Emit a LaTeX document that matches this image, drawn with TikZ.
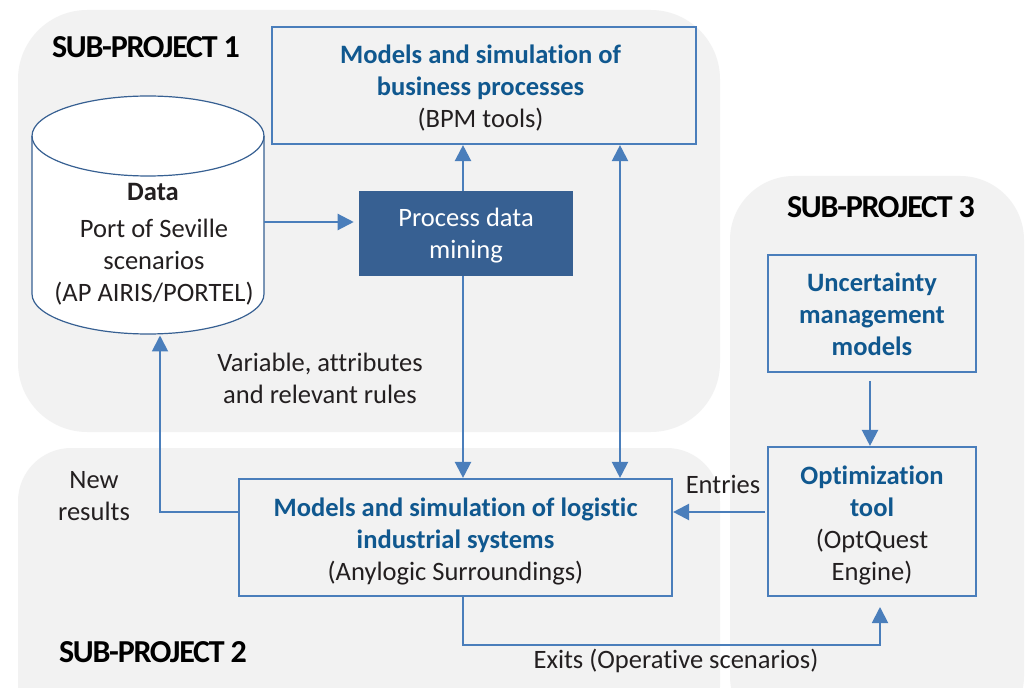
\documentclass[tikz,border=0pt]{standalone}
\usepackage{fontspec}
\setmainfont{Carlito}[Ligatures=CommonOff]
\usetikzlibrary{arrows.meta}
\definecolor{panel}{HTML}{F2F2F2}
\definecolor{edge}{HTML}{4A7EBB}
\definecolor{dark}{HTML}{376092}
\definecolor{head}{HTML}{10588F}
\definecolor{ink}{HTML}{231F20}
\newcommand{\hd}[1]{{\bfseries\color{head}#1}}
\newcommand{\dn}[1]{\rule{0pt}{\dimexpr 14.3pt+#1\relax}}
\tikzset{
  x=0.75pt,y=-0.75pt,
  panelbox/.style={fill=panel,draw=none},
  blockbox/.style={draw=edge,line width=1.6pt,rectangle,minimum width=#1,inner sep=0pt,align=center,text=ink,font=\fontsize{19.9pt}{24pt}\selectfont},
  label/.style={text=ink,align=center,inner sep=0pt,font=\fontsize{19.9pt}{24pt}\selectfont},
  title/.style={text=black,inner sep=0pt,font=\fontsize{24pt}{28pt}\selectfont\bfseries},
  link/.style={draw=edge,line width=1.7pt,-{Triangle[length=12pt,width=12pt]}},
  thinlink/.style={draw=edge,line width=1.4pt,-{Triangle[length=12pt,width=12pt]}},
  twolink/.style={draw=edge,line width=1.6pt,{Triangle[length=12pt,width=12pt]}-{Triangle[length=12pt,width=12pt]}},
}
\begin{document}
\begin{tikzpicture}
\useasboundingbox (0,0) rectangle (1026,688);
\fill[white] (0,0) rectangle (1026,688);
\begin{scope}
\clip (0,0) rectangle (1026,688);
\fill[panelbox,rounded corners=52pt] (18,10) rectangle (720,432);
\fill[panelbox,rounded corners=40pt] (18,448) rectangle (720,740);
\fill[panelbox,rounded corners=48pt] (730,176) rectangle (1024,740);
\end{scope}

\node[title] (t1) at (146,47) {\addfontfeature{LetterSpace=-4}SUB-PROJECT 1};
\node[title] (t2) at (153,652) {\addfontfeature{LetterSpace=-4}SUB-PROJECT 2};
\node[title] (t3) at (881,207) {\addfontfeature{LetterSpace=-4}SUB-PROJECT 3};

\node[blockbox=317.5pt,minimum height=87.75pt] (bpm) at (484,85.5) {\hspace*{-5.2pt}\dn{3pt}\hd{Models and simulation of}\\\hspace*{-5.2pt}\hd{business processes}\\\hspace*{-5.2pt}(BPM tools)};
\node[draw=none,fill=dark,minimum width=160.5pt,minimum height=63.75pt,inner sep=0pt,align=center,text=white,font=\fontsize{19.9pt}{24pt}\selectfont] (mine) at (466,233.5) {\dn{3pt}Process data\\mining};
\node[blockbox=324.75pt,minimum height=87.75pt] (log) at (455.5,537.5) {\dn{6pt}\hd{Models and simulation of logistic}\\\hd{industrial systems}\\(Anylogic Surroundings)};
\node[blockbox=156pt,minimum height=87.75pt] (unc) at (872,313.5) {\dn{1.5pt}\hd{Uncertainty}\\\hd{management}\\\hd{models}};
\node[blockbox=156pt,minimum height=111.75pt] (opt) at (872,521.5) {\dn{6pt}\hd{Optimization}\\\hd{tool}\\(OptQuest\\Engine)};

\draw[draw=dark,line width=0.9pt,fill=white] (32,136) -- (32,294) arc[start angle=180,end angle=0,x radius=116,y radius=40] -- (264,136) arc[start angle=0,end angle=-180,x radius=116,y radius=40] -- cycle;
\draw[draw=dark,line width=0.9pt] (32,136) arc[start angle=180,end angle=0,x radius=116,y radius=40];
\node[inner sep=0pt,minimum width=174pt,minimum height=178.5pt] (data) at (148,215) {};
\node[label] (d1) at (153,192) {\bfseries Data};
\node[label] (d2) at (154,262) {Port of Seville\\scenarios\\(AP AIRIS/PORTEL)};

\node[label] (l1) at (320,378) {Variable, attributes\\and relevant rules};
\node[label] (l2) at (94,496) {New\\results};
\node[label] (l3) at (723,484) {Entries};
\node[label] (l4) at (676,661) {Exits (Operative scenarios)};

\coordinate (a1) at (463,191);
\draw[link] (mine.north -| a1) -- (bpm.south -| a1);
\coordinate (a2) at (620,0);
\draw[twolink] (bpm.south -| a2) -- (log.north -| a2);
\coordinate (a3) at (264,222);
\draw[link,line width=1.6pt,shorten >=3.75pt] (a3) -- (a3 -| mine.west);
\draw[link] (mine.south -| a1) -- (log.north -| a1);
\coordinate (a4) at (160,335.5);
\coordinate (a4b) at (160,512);
\draw[thinlink] (a4b -| log.west) -- (a4b) -- (a4);
\coordinate (a5) at (765,512);
\draw[link] (a5) -- (a5 -| log.east);
\coordinate (a7) at (870,381);
\draw[link] (a7) -- (a7 |- opt.north);
\coordinate (a8) at (880,607);
\coordinate (a9) at (463,645);
\draw[thinlink] (log.south -| a1) -- (a9) -- (a9 -| a8) -- (a8);
\end{tikzpicture}
\end{document}
